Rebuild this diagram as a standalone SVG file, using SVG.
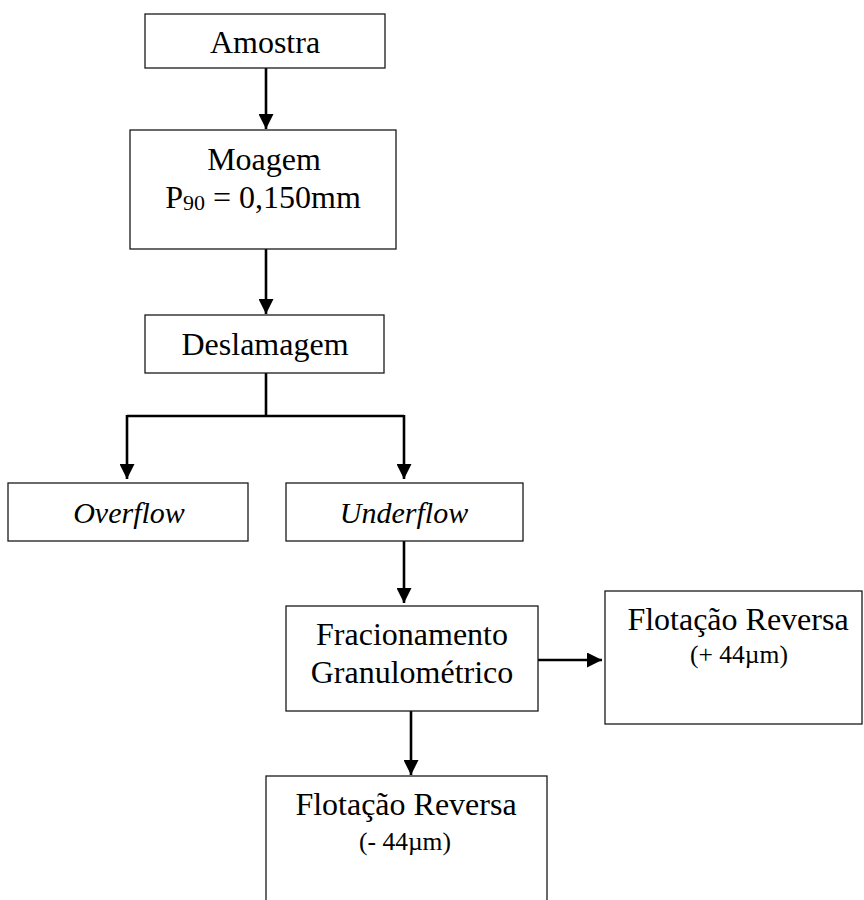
<svg xmlns="http://www.w3.org/2000/svg" width="864" height="900" viewBox="0 0 864 900">
  <style>
    .box { fill: #ffffff; stroke: #1a1a1a; stroke-width: 1.3; }
    .lbl { font-family: "Liberation Serif", "Times New Roman", serif; font-size: 32px; fill: #000; text-anchor: middle; }
    .it { font-style: italic; font-size: 30px; }
    .sm { font-size: 25.5px; }
    .wire { fill: none; stroke: #000; stroke-width: 2.6; }
  </style>
  <defs>
    <marker id="arrow" markerUnits="userSpaceOnUse" markerWidth="15" markerHeight="15" refX="15" refY="7.5" orient="auto">
      <path d="M0,0 L15,7.5 L0,15 Z" fill="#000"/>
    </marker>
  </defs>
  <rect width="864" height="900" fill="#ffffff"/>

  <!-- connectors -->
  <g id="connectors">
    <path class="wire" d="M266,68 V129" marker-end="url(#arrow)"/>
    <path class="wire" d="M266,249 V314" marker-end="url(#arrow)"/>
    <path class="wire" d="M266,373 V416"/>
    <path class="wire" d="M127,416 H404"/>
    <path class="wire" d="M127,415 V479" marker-end="url(#arrow)"/>
    <path class="wire" d="M404,415 V479" marker-end="url(#arrow)"/>
    <path class="wire" d="M404,541 V603" marker-end="url(#arrow)"/>
    <path class="wire" d="M538,660 H602" marker-end="url(#arrow)"/>
    <path class="wire" d="M411,711 V775" marker-end="url(#arrow)"/>
  </g>

  <g id="amostra">
    <rect class="box" x="145" y="14" width="240" height="54"/>
    <text class="lbl" x="265" y="53">Amostra</text>
  </g>

  <g id="moagem">
    <rect class="box" x="130" y="130" width="266" height="119"/>
    <text class="lbl" x="264" y="170">Moagem</text>
    <text class="lbl" x="263" y="208">P<tspan font-size="22" dy="2">90</tspan><tspan dy="-2"> = 0,150mm</tspan></text>
  </g>

  <g id="deslamagem">
    <rect class="box" x="145" y="315" width="239" height="58"/>
    <text class="lbl" x="265" y="355">Deslamagem</text>
  </g>

  <g id="overflow">
    <rect class="box" x="8" y="483" width="240" height="58"/>
    <text class="lbl it" x="129" y="523">Overflow</text>
  </g>

  <g id="underflow">
    <rect class="box" x="286" y="483" width="237" height="58"/>
    <text class="lbl it" x="404" y="523">Underflow</text>
  </g>

  <g id="fracionamento">
    <rect class="box" x="286" y="606" width="252" height="105"/>
    <text class="lbl" x="412" y="645">Fracionamento</text>
    <text class="lbl" x="412" y="683">Granulométrico</text>
  </g>

  <g id="flotacao-grossos">
    <rect class="box" x="605" y="591" width="257" height="133"/>
    <text class="lbl" x="738" y="630">Flotação Reversa</text>
    <text class="lbl sm" x="739" y="663">(+ 44µm)</text>
  </g>

  <g id="flotacao-finos">
    <rect class="box" x="266" y="776" width="281" height="140"/>
    <text class="lbl" x="406" y="815">Flotação Reversa</text>
    <text class="lbl sm" x="405" y="850">(- 44µm)</text>
  </g>
</svg>
